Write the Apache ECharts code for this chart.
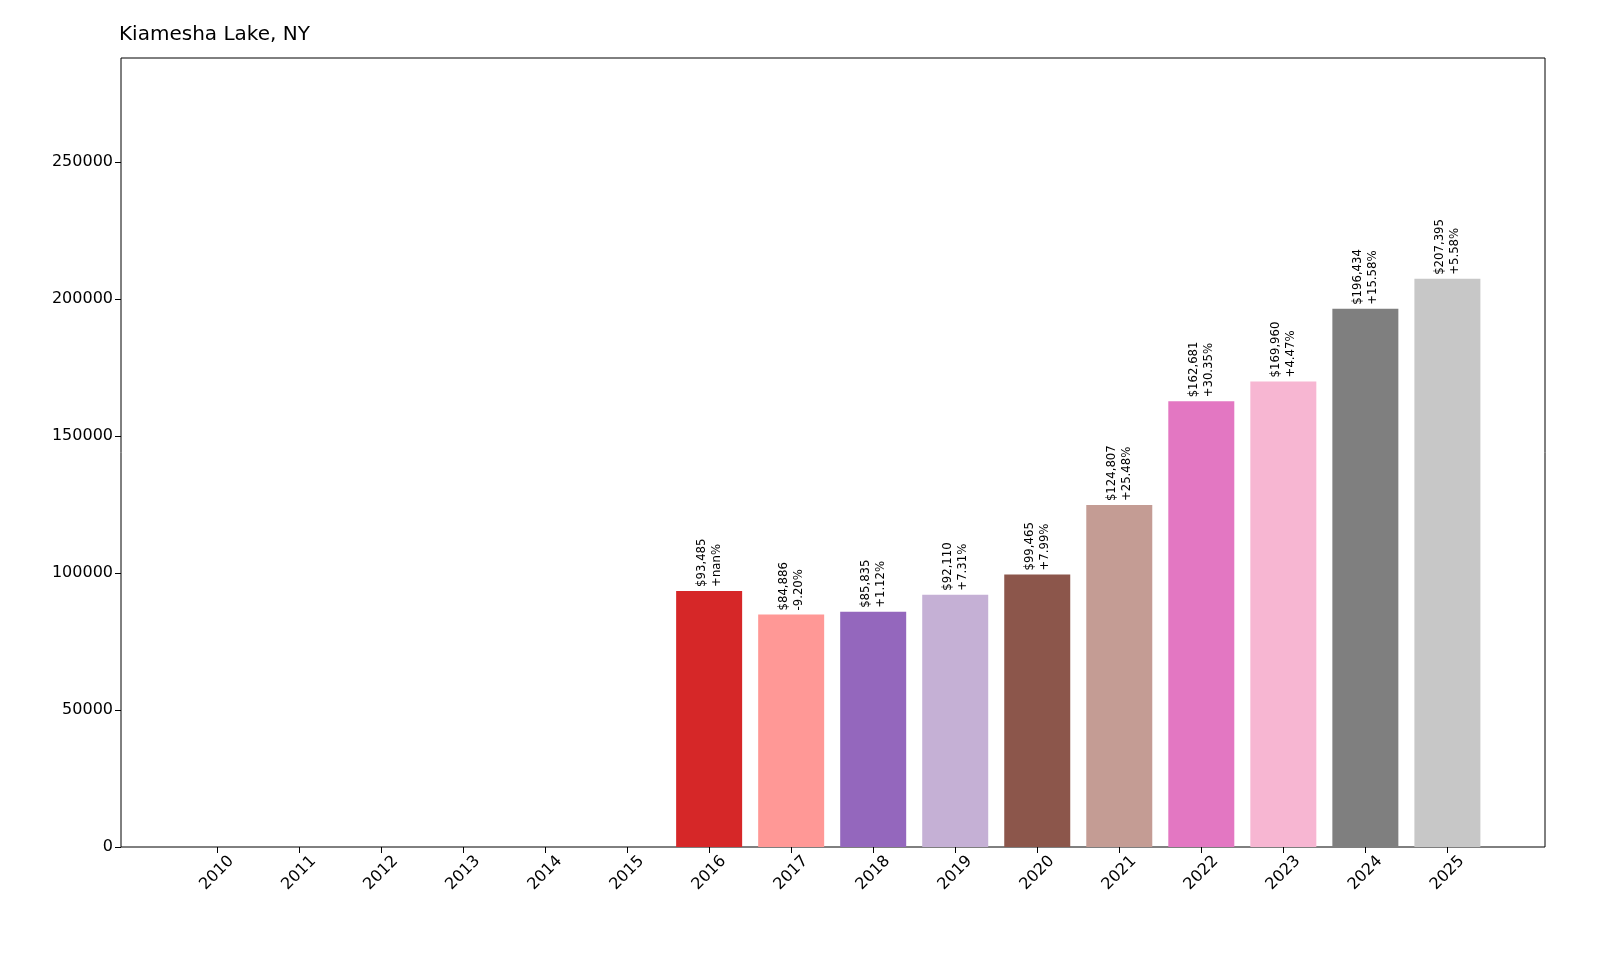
<!DOCTYPE html><html><head><meta charset="utf-8"><script src="https://cdn.jsdelivr.net/npm/echarts@6/dist/echarts.min.js"></script></head><body style="margin:0"><div id="c" style="width:1600px;height:960px"></div><script>
const years=[2010,2011,2012,2013,2014,2015,2016,2017,2018,2019,2020,2021,2022,2023,2024,2025];
const values=[0,0,0,0,0,0,93485,84886,85835,92110,99465,124807,162681,169960,196434,207395];
const pct=[null,null,null,null,null,null,'+nan%','-9.20%','+1.12%','+7.31%','+7.99%','+25.48%','+30.35%','+4.47%','+15.58%','+5.58%'];
const colors=['#1f77b4','#aec7e8','#ff7f0e','#ffbb78','#2ca02c','#98df8a','#d62728','#ff9896','#9467bd','#c5b0d5','#8c564b','#c49c94','#e377c2','#f7b6d2','#7f7f7f','#c7c7c7'];
const yTicks=[0,50000,100000,150000,200000,250000];
const data=years.map((y,i)=>({value:[y,values[i]],itemStyle:{color:colors[i]},
 label:{show:values[i]>0,formatter:'$'+values[i].toLocaleString('en-US')+'\n'+pct[i]}}));
const c=echarts.init(document.getElementById('c'));
c.setOption({animation:false,
title:{text:'Kiamesha Lake, NY',left:114,top:20,textStyle:{fontSize:20,fontWeight:'normal',color:'#000',fontFamily:'DejaVu Sans'}},
grid:{left:121,right:55,top:58,bottom:113,show:true,borderColor:'#000',borderWidth:1,backgroundColor:'transparent'},
xAxis:{type:'value',min:2008.83,max:2026.19,interval:1,splitLine:{show:false},
 axisLine:{show:false},axisTick:{show:true,length:6,lineStyle:{color:'#000'},customValues:years},
 axisLabel:{customValues:years,rotate:45,align:'center',verticalAlign:'middle',fontSize:16,color:'#000',margin:26,fontFamily:'DejaVu Sans',formatter:v=>String(v)}},
yAxis:{type:'value',min:0,max:288000,splitLine:{show:false},axisLine:{show:false},
 axisTick:{show:true,length:6,lineStyle:{color:'#000'},customValues:yTicks},
 axisLabel:{customValues:yTicks,fontSize:16,color:'#000',fontFamily:'DejaVu Sans',formatter:v=>String(v)}},
series:[{type:'bar',barWidth:66,data:data,
 label:{position:'top',rotate:90,align:'left',verticalAlign:'middle',distance:4,fontSize:13,lineHeight:15,color:'#000',fontFamily:'DejaVu Sans Condensed'}}]});
</script></body></html>
